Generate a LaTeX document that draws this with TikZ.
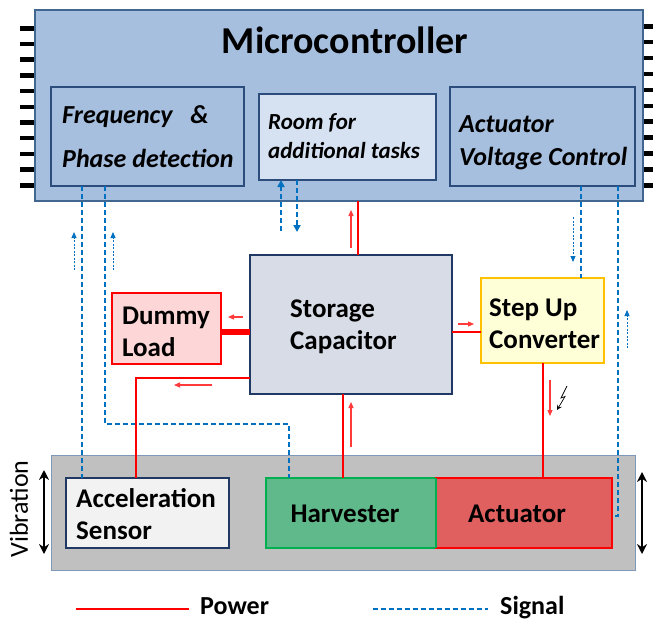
\documentclass[tikz,border=0pt]{standalone}
\usepackage{fontspec}
\setmainfont{Carlito}
\usetikzlibrary{arrows.meta,calc}
\definecolor{mcfill}{HTML}{A7BFDE}
\definecolor{mcborder}{HTML}{41668F}
\definecolor{inborder}{HTML}{2C4C7C}
\definecolor{roomfill}{HTML}{D6E1F1}
\definecolor{stfill}{HTML}{D7DCE6}
\definecolor{navy}{HTML}{1F3864}
\definecolor{dlfill}{HTML}{FDD7D7}
\definecolor{pwr}{HTML}{FF0000}
\definecolor{pwrthin}{HTML}{FF3B3B}
\definecolor{sufill}{HTML}{FFFFD7}
\definecolor{suborder}{HTML}{FFC000}
\definecolor{grayfill}{HTML}{C0C0C0}
\definecolor{grayborder}{HTML}{7F97B8}
\definecolor{acfill}{HTML}{F2F2F2}
\definecolor{hvfill}{HTML}{5FB98A}
\definecolor{hvborder}{HTML}{00B050}
\definecolor{atfill}{HTML}{E06060}
\definecolor{sig}{HTML}{0070C0}
\begin{document}
\begin{tikzpicture}[x=1pt,y=-1pt,
  box/.style={draw, line width=2.2pt, anchor=north west, inner sep=0pt, outer sep=0pt},
  lbl/.style={anchor=mid west, inner sep=0pt, yshift=-4pt, font=\bfseries\fontsize{27}{27}\selectfont},
  itl/.style={anchor=mid west, inner sep=0pt, yshift=-4pt, font=\bfseries\itshape\fontsize{26}{26}\selectfont},
  roomtxt/.style={anchor=mid west, inner sep=0pt, yshift=-3pt, font=\bfseries\itshape\fontsize{23}{23}\selectfont},
  power/.style={draw=pwr, line width=2.6pt},
  signal/.style={draw=sig, line width=2pt, dash pattern=on 5pt off 3pt},
  tinysig/.style={draw=sig, line width=0.9pt, dash pattern=on 2pt off 1.5pt, -{Triangle[length=6pt,width=5pt]}},
  tinypwr/.style={draw=pwrthin, line width=1.1pt, -{Triangle[length=6pt,width=5pt]}},
  vib/.style={draw=black, line width=2.6pt, {Stealth[length=10pt,width=10pt]}-{Stealth[length=10pt,width=10pt]}}
]
\useasboundingbox (0,0) rectangle (653,621);

% pins
\foreach \i in {0,...,10} {
  \fill[black] (20,{26+\i*15.7}) rectangle (36,{30.5+\i*15.7});
  \fill[black] (642,{24+\i*15.9}) rectangle (653,{28.5+\i*15.9});
}

% microcontroller
\node[box, draw=mcborder, fill=mcfill, line width=2pt, minimum width=608pt, minimum height=191pt] (mc) at (35,10) {};
\node[inner sep=0pt, font=\bfseries\fontsize{38}{38}\selectfont] (title) at (345,40) {Microcontroller};

\node[box, draw=inborder, fill=mcfill, minimum width=193pt, minimum height=99pt] (freq) at (51,87) {};
\node[itl] (freqa) at (62,117) {Frequency\ \ \ \&};
\node[itl] (freqb) at (62,161) {Phase detection};

\node[box, draw=inborder, fill=roomfill, line width=1.8pt, minimum width=177pt, minimum height=86pt] (room) at (259,94) {};
\node[roomtxt] (rooma) at (268,124) {Room for};
\node[roomtxt] (roomb) at (268,153) {additional tasks};

\node[box, draw=inborder, fill=mcfill, minimum width=185pt, minimum height=99pt] (avc) at (450,87) {};
\node[itl] (avca) at (459,126) {Actuator};
\node[itl] (avcb) at (459,159) {Voltage Control};

% middle boxes
\node[box, draw=navy, fill=stfill, minimum width=202pt, minimum height=139pt] (st) at (250,255) {};
\node[lbl] (sta) at (290,311) {Storage};
\node[lbl] (stb) at (290,343) {Capacitor};

\node[box, draw=pwr, fill=dlfill, minimum width=109pt, minimum height=71pt] (dl) at (112,293) {};
\node[lbl] (dla) at (122,318) {Dummy};
\node[lbl] (dlb) at (122,350) {Load};

\node[box, draw=suborder, fill=sufill, minimum width=123pt, minimum height=85pt] (su) at (481,278) {};
\node[lbl] (sua) at (489,310) {Step Up};
\node[lbl] (sub) at (489,342) {Converter};

% vibration table
\node[box, draw=grayborder, fill=grayfill, line width=1pt, minimum width=584pt, minimum height=115pt] (tbl) at (51,455) {};
\node[box, draw=navy, fill=acfill, minimum width=163pt, minimum height=70pt] (ac) at (66,478) {};
\node[lbl] (aca) at (76,501) {Acceleration};
\node[lbl] (acb) at (76,533) {Sensor};
\node[box, draw=hvborder, fill=hvfill, minimum width=170pt, minimum height=70pt] (hv) at (266,478) {};
\node[lbl, anchor=mid] (hva) at (345,516) {Harvester};
\node[box, draw=pwr, fill=atfill, minimum width=176pt, minimum height=70pt] (at) at (436,478) {};
\node[lbl, anchor=mid] (ata) at (517,516) {Actuator};
% redraw shared edge in green
\draw[hvborder, line width=2.2pt] (hv.north east) -- (hv.south east);

% coordinates
\coordinate (x82) at (82,0);
\coordinate (x105) at (105,0);
\coordinate (x289) at (289,0);
\coordinate (y424) at (0,424);
\coordinate (x281) at (281,231);
\coordinate (x297) at (297,232);
\coordinate (x581) at (581,0);
\coordinate (x618) at (618,0);
\coordinate (y516) at (0,516);
\coordinate (x358) at (358,0);
\coordinate (y332) at (0,332);
\coordinate (y378) at (0,378);
\coordinate (x136) at (136,0);
\coordinate (x343) at (343,0);
\coordinate (x543) at (543,0);

% signal lines
\draw[signal] (freq.south -| x82) -- (ac.north -| x82);
\draw[signal] (freq.south -| x105) -- (x105 |- y424) -- (x289 |- y424) -- (hv.north -| x289);
\draw[signal, -{Triangle[length=7pt,width=7pt]}] (x281) -- (room.south -| x281);
\draw[signal, -{Triangle[length=7pt,width=7pt]}] (room.south -| x297) -- (x297);
\draw[signal] (avc.south -| x581) -- (su.north -| x581);
\draw[signal] (avc.south -| x618) -- (x618 |- y516) -- (at.east |- y516);

% small signal direction arrows
\draw[tinysig] (74,270) -- (74,232);
\draw[tinysig] (113,270) -- (113,232);
\draw[tinysig] (573,217) -- (573,262);
\draw[tinysig] (627,348) -- (627,310);

% power lines
\draw[power] (mc.south -| x358) -- (st.north -| x358);
\draw[power] (st.east |- y332) -- (su.west |- y332);
\draw[pwr, line width=6pt] (dl.east |- y332) -- (st.west |- y332);
\draw[power] (st.west |- y378) -- (x136 |- y378) -- (ac.north -| x136);
\draw[power] (st.south -| x343) -- (hv.north -| x343);
\draw[power] (su.south -| x543) -- (at.north -| x543);

% small power direction arrows
\draw[tinypwr] (351,248) -- (351,210);
\draw[tinypwr] (351,447) -- (351,402);
\draw[tinypwr] (243,317) -- (228,317);
\draw[tinypwr] (212,385) -- (174,385);
\draw[tinypwr] (458,324) -- (474,324);
\draw[tinypwr] (550,380) -- (550,416);
% lightning
\draw[black, line width=0.7pt, -{Stealth[open,length=5pt,width=5pt]}] (567,386) -- (561,398) -- (565,396.5) -- (557,410);

% vibration arrows
\draw[vib] (44,470) -- (44,554);
\draw[vib] (642,472) -- (642,554);
\node[rotate=90, inner sep=0pt, font=\fontsize{26}{26}\selectfont] (vibl) at (19,509) {Vibration};

% legend
\coordinate (lp1) at (76,609);
\coordinate (lp2) at (189,609);
\coordinate (ls1) at (373,609);
\coordinate (ls2) at (488,609);
\draw[power] (lp1) -- (lp2);
\node[lbl, font=\bfseries\fontsize{26}{26}\selectfont] (lpow) at (200,608) {Power};
\draw[signal] (ls1) -- (ls2);
\node[lbl, font=\bfseries\fontsize{26}{26}\selectfont] (lsig) at (500,608) {Signal};
\end{tikzpicture}
\end{document}
